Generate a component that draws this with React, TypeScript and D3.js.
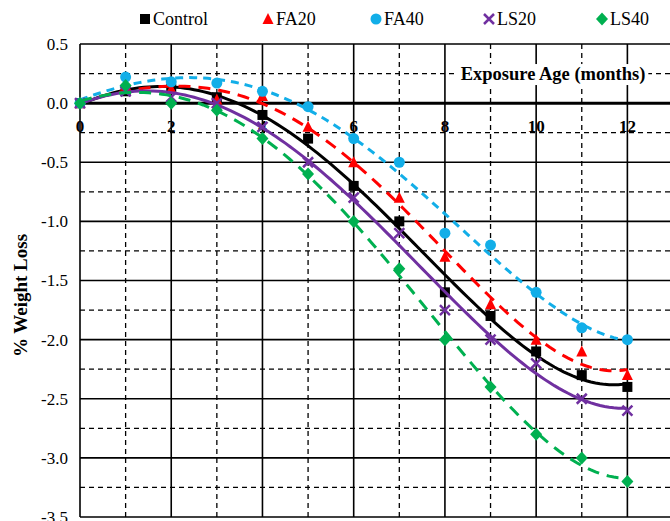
import { useRef, useEffect } from "react";
import * as d3 from "d3";

const months = [0, 1, 2, 3, 4, 5, 6, 7, 8, 9, 10, 11, 12];
const control = [0, 0.1, 0.12, 0.05, -0.1, -0.3, -0.7, -1.0, -1.6, -1.8, -2.1, -2.3, -2.4];
const fa20 = [0, 0.15, 0.12, 0.03, 0.06, -0.2, -0.5, -0.8, -1.3, -1.7, -2.0, -2.1, -2.3];
const fa40 = [0, 0.22, 0.18, 0.17, 0.1, -0.03, -0.3, -0.5, -1.1, -1.2, -1.6, -1.9, -2.0];
const ls20 = [0, 0.1, 0.05, 0.0, -0.2, -0.5, -0.8, -1.1, -1.75, -2.0, -2.2, -2.5, -2.6];
const ls40 = [0, 0.15, 0.0, -0.06, -0.3, -0.6, -1.0, -1.4, -2.0, -2.4, -2.8, -3.0, -3.2];

const yTicks = ["0.5", "0.0", "-0.5", "-1.0", "-1.5", "-2.0", "-2.5", "-3.0", "-3.5"];
const xTicks = [0, 2, 4, 6, 8, 10, 12];

const SERIES = [
  { name: "Control", values: control, color: "#000000", dash: null, marker: "square" },
  { name: "FA20", values: fa20, color: "#ff0000", dash: "12,8", marker: "triangle" },
  { name: "FA40", values: fa40, color: "#12aee8", dash: "8,6", marker: "circle" },
  { name: "LS20", values: ls20, color: "#7030a0", dash: null, marker: "cross" },
  { name: "LS40", values: ls40, color: "#00b050", dash: "12,8", marker: "diamond" },
];

// least squares polynomial trendline (like Excel)
function polyFit(xs: number[], ys: number[], order: number) {
  const n = order + 1;
  const A: number[][] = Array.from({ length: n }, () => new Array(n + 1).fill(0));
  for (let r = 0; r < n; r++) {
    for (let c = 0; c < n; c++) A[r][c] = d3.sum(xs, (x) => Math.pow(x, r + c));
    A[r][n] = d3.sum(xs, (x, i) => ys[i] * Math.pow(x, r));
  }
  for (let i = 0; i < n; i++) {
    let p = i;
    for (let k = i + 1; k < n; k++) if (Math.abs(A[k][i]) > Math.abs(A[p][i])) p = k;
    [A[i], A[p]] = [A[p], A[i]];
    for (let k = i + 1; k < n; k++) {
      const f = A[k][i] / A[i][i];
      for (let j = i; j <= n; j++) A[k][j] -= f * A[i][j];
    }
  }
  const coef = new Array(n).fill(0);
  for (let i = n - 1; i >= 0; i--) {
    let s = A[i][n];
    for (let j = i + 1; j < n; j++) s -= A[i][j] * coef[j];
    coef[i] = s / A[i][i];
  }
  return (x: number) => coef.reduce((acc, c, i) => acc + c * Math.pow(x, i), 0);
}

function drawMarker(g: any, type: string, cx: number, cy: number, color: string) {
  if (type === "square") {
    g.append("rect").attr("x", cx - 5).attr("y", cy - 5).attr("width", 10).attr("height", 10).attr("fill", color);
  } else if (type === "triangle") {
    g.append("path").attr("d", `M${cx},${cy - 6}L${cx + 5.5},${cy + 5}L${cx - 5.5},${cy + 5}Z`).attr("fill", color);
  } else if (type === "circle") {
    g.append("circle").attr("cx", cx).attr("cy", cy).attr("r", 5.5).attr("fill", color);
  } else if (type === "cross") {
    g.append("path")
      .attr("d", `M${cx - 5},${cy - 5}L${cx + 5},${cy + 5}M${cx + 5},${cy - 5}L${cx - 5},${cy + 5}`)
      .attr("stroke", color)
      .attr("stroke-width", 2.5);
  } else {
    g.append("path").attr("d", `M${cx},${cy - 6.5}L${cx + 6},${cy}L${cx},${cy + 6.5}L${cx - 6},${cy}Z`).attr("fill", color);
  }
}

export default function App() {
  const svgRef = useRef<SVGSVGElement>(null);

  useEffect(() => {
    if (!svgRef.current) return;
    const width = 670;
    const height = 521;
    const svg = d3.select(svgRef.current);
    svg.selectAll("*").remove();
    svg.attr("width", width).attr("height", height);

    const font = "'Liberation Serif', 'Times New Roman', serif";
    const x = d3.scaleLinear().domain([0, 13]).range([80, 673]);
    const y = d3.scaleLinear().domain([-3.5, 0.5]).range([517, 44]);

    svg.append("rect").attr("width", width).attr("height", height).attr("fill", "white");

    const grid = svg.append("g");
    // horizontal grid
    d3.range(-3.5, 0.51, 0.25).forEach((v, i) => {
      const major = i % 2 === 0;
      grid
        .append("line")
        .attr("x1", x(0))
        .attr("x2", x(13))
        .attr("y1", y(v))
        .attr("y2", y(v))
        .attr("stroke", "#000")
        .attr("stroke-width", major ? 1.6 : 1.3)
        .attr("stroke-dasharray", major ? null : "5,4");
    });
    // vertical grid
    months.concat([13]).forEach((m) => {
      const major = m % 2 === 0;
      grid
        .append("line")
        .attr("x1", x(m))
        .attr("x2", x(m))
        .attr("y1", y(0.5))
        .attr("y2", y(-3.5))
        .attr("stroke", "#000")
        .attr("stroke-width", major ? 1.6 : 1.3)
        .attr("stroke-dasharray", major ? null : "5,4");
    });
    // zero line
    grid
      .append("line")
      .attr("x1", x(0))
      .attr("x2", x(13))
      .attr("y1", y(0))
      .attr("y2", y(0))
      .attr("stroke", "#000")
      .attr("stroke-width", 3);

    // y tick labels
    svg
      .append("g")
      .selectAll("text")
      .data(yTicks)
      .enter()
      .append("text")
      .attr("x", 68)
      .attr("y", (d) => y(+d))
      .attr("dy", "0.35em")
      .attr("text-anchor", "end")
      .style("font-family", font)
      .style("font-size", "17px")
      .text((d) => d);

    // x tick labels under zero line
    svg
      .append("g")
      .selectAll("text")
      .data(xTicks)
      .enter()
      .append("text")
      .attr("x", (d) => x(d))
      .attr("y", y(0) + 29)
      .attr("text-anchor", "middle")
      .style("font-family", font)
      .style("font-size", "17px")
      .style("font-weight", "bold")
      .text((d) => d);

    // x axis title with white box
    const title = svg
      .append("text")
      .attr("x", 553)
      .attr("y", y(0.25))
      .attr("dy", "0.35em")
      .attr("text-anchor", "middle")
      .style("font-family", font)
      .style("font-size", "18.5px")
      .style("font-weight", "bold")
      .text("Exposure Age (months)");
    const bb = (title.node() as SVGTextElement).getBBox();
    svg
      .insert("rect", () => title.node())
      .attr("x", bb.x - 3)
      .attr("y", bb.y)
      .attr("width", bb.width + 6)
      .attr("height", bb.height)
      .attr("fill", "white");

    // y axis title
    svg
      .append("text")
      .attr("transform", `translate(27, ${y(-1.5) + 15}) rotate(-90)`)
      .attr("text-anchor", "middle")
      .style("font-family", font)
      .style("font-size", "19px")
      .style("font-weight", "bold")
      .text("% Weight Loss");

    // series trendlines and markers
    const fine = d3.range(0, 12.001, 0.1);
    SERIES.forEach((s) => {
      const f = polyFit(months, s.values, 4);
      const line = d3
        .line<number>()
        .x((d) => x(d))
        .y((d) => y(f(d)));
      svg
        .append("path")
        .datum(fine)
        .attr("d", line)
        .attr("fill", "none")
        .attr("stroke", s.color)
        .attr("stroke-width", 3)
        .attr("stroke-dasharray", s.dash);
      const mg = svg.append("g");
      s.values.forEach((v, i) => drawMarker(mg, s.marker, x(months[i]), y(v), s.color));
    });

    // legend
    const legendX = [145, 268, 376, 489, 602];
    SERIES.forEach((s, i) => {
      const lg = svg.append("g");
      drawMarker(lg, s.marker, legendX[i], 19, s.color);
      lg.append("text")
        .attr("x", legendX[i] + 8)
        .attr("y", 19)
        .attr("dy", "0.35em")
        .style("font-family", font)
        .style("font-size", "18px")
        .text(s.name);
    });
  }, []);

  return (
    <svg
      ref={svgRef}
      style={{ position: "absolute", left: 0, top: 0, display: "block" }}
    />
  );
}
